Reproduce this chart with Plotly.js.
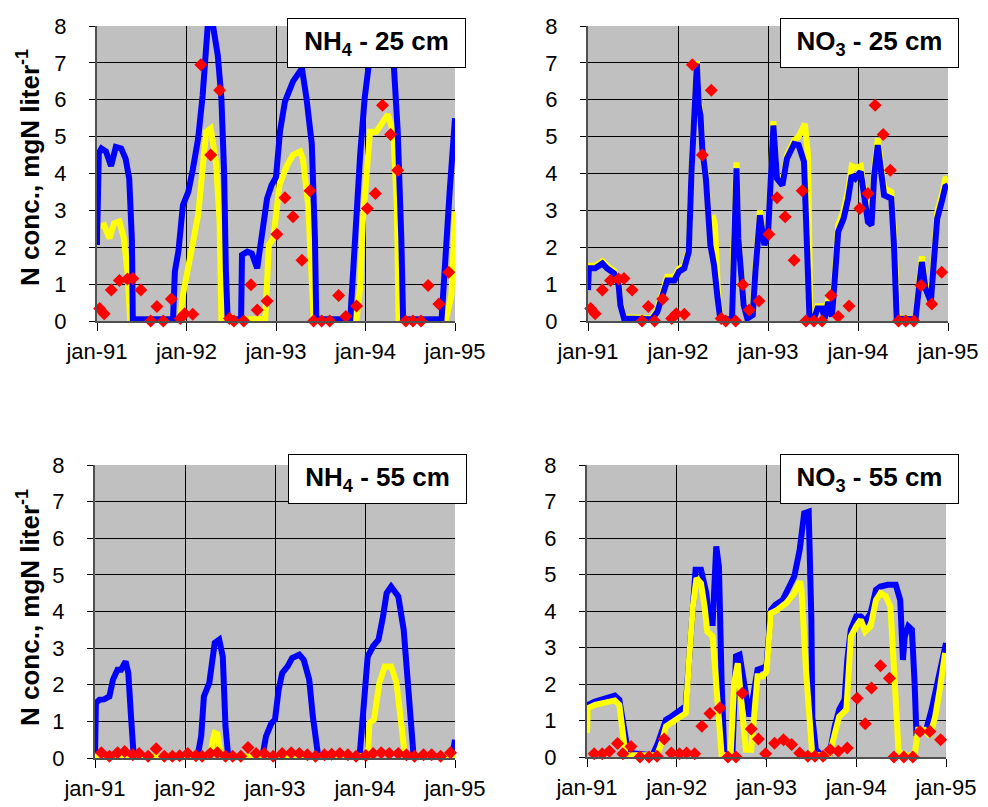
<!DOCTYPE html>
<html>
<head>
<meta charset="utf-8">
<script src="https://cdn.plot.ly/plotly-3.0.1.min.js"></script>
<style>html,body{margin:0;padding:0;background:#fff;}#chart{width:988px;height:807px;}</style>
</head>
<body>
<div id="chart"></div>
<script>
// ---- tick labels ----
const yearTicks = [1991, 1992, 1993, 1994, 1995];
const yearLabels = ['jan-91', 'jan-92', 'jan-93', 'jan-94', 'jan-95'];
const panelTitles = ['NH<sub>4</sub> - 25 cm', 'NO<sub>3</sub> - 25 cm', 'NH<sub>4</sub> - 55 cm', 'NO<sub>3</sub> - 55 cm'];
const yTitle = 'N conc., mgN liter<sup>-1</sup>';

// ---- NH4 25 cm ----
const nh4_25_blue_x = [1991.00,1991.02,1991.05,1991.10,1991.157,1991.21,1991.27,1991.32,1991.36,1991.39,1991.40,1991.85,1991.87,1991.91,1991.96,1992.02,1992.07,1992.13,1992.18,1992.24,1992.29,1992.35,1992.39,1992.42,1992.44,1992.46,1992.61,1992.62,1992.68,1992.73,1992.79,1992.84,1992.90,1992.95,1993.00,1993.045,1993.10,1993.19,1993.29,1993.34,1993.40,1993.435,1993.45,1993.83,1993.88,1993.94,1993.99,1994.05,1994.12,1994.25,1994.31,1994.36,1994.40,1994.42,1994.85,1994.885,1994.94,1995.00];
const nh4_25_blue_y = [2.06,4.55,4.68,4.6,4.2,4.72,4.68,4.4,3.86,2.2,0.05,0.05,1.34,1.9,3.14,3.5,4.1,4.95,6.1,8.1,8.1,7.2,6.03,4.05,1.34,0.05,0.05,1.79,1.88,1.83,1.43,2.33,3.32,3.68,3.9,5.15,5.95,6.5,6.85,6.05,4.8,2.25,0.05,0.05,2.25,4.5,6.03,7.2,7.3,7.3,7.2,5.15,2.25,0.05,0.05,1.7,3.5,5.5];
const nh4_25_yellow_x = [1991.00,1991.01,1991.08,1991.14,1991.19,1991.25,1991.30,1991.34,1991.37,1991.93,1991.96,1992.02,1992.07,1992.13,1992.18,1992.22,1992.27,1992.33,1992.37,1992.39,1992.88,1992.92,1992.97,1993.04,1993.12,1993.19,1993.27,1993.30,1993.36,1993.40,1993.42,1993.90,1993.94,1993.97,1994.01,1994.05,1994.12,1994.20,1994.25,1994.31,1994.35,1994.37,1994.90,1994.96,1995.00];
const nh4_25_yellow_y = [2.06,2.55,2.6,2.24,2.65,2.7,2.24,1.34,0.05,0.05,0.7,1.5,2.15,2.87,4.13,5.13,5.22,4.3,2.7,0.05,0.05,2.06,2.24,3.7,4.2,4.5,4.6,4.4,3.14,1.34,0.05,0.05,0.9,2.7,4.2,5.13,5.13,5.4,5.6,5.13,3.14,0.05,0.05,0.7,2.96];
// observed (same markers appear in both 25 cm panels)
const obs_25_x = [1991.03,1991.08,1991.16,1991.25,1991.34,1991.40,1991.49,1991.60,1991.67,1991.74,1991.83,1991.93,1991.98,1992.07,1992.16,1992.27,1992.37,1992.48,1992.53,1992.64,1992.72,1992.79,1992.90,1993.01,1993.10,1993.19,1993.29,1993.38,1993.42,1993.51,1993.60,1993.70,1993.78,1993.90,1994.02,1994.11,1994.19,1994.28,1994.36,1994.45,1994.53,1994.62,1994.70,1994.82,1994.93];
const obs_25_y = [0.34,0.2,0.84,1.1,1.14,1.15,0.84,0,0.39,0,0.6,0.07,0.2,0.18,6.95,4.5,6.26,0.07,0,0,0.98,0.3,0.54,2.35,3.34,2.83,1.65,3.53,0,0,0,0.69,0.12,0.41,3.05,3.46,5.85,5.06,4.09,0,0,0,0.96,0.46,1.32];

// ---- NO3 25 cm ----
const no3_25_blue_x = [1991.00,1991.01,1991.08,1991.16,1991.21,1991.29,1991.34,1991.36,1991.40,1991.71,1991.77,1991.83,1991.88,1991.96,1992.01,1992.07,1992.12,1992.15,1992.19,1992.21,1992.23,1992.25,1992.27,1992.31,1992.36,1992.40,1992.44,1992.47,1992.60,1992.62,1992.65,1992.67,1992.70,1992.73,1992.77,1992.83,1992.86,1992.91,1992.96,1993.00,1993.06,1993.10,1993.16,1993.21,1993.29,1993.34,1993.40,1993.43,1993.46,1993.51,1993.55,1993.60,1993.63,1993.67,1993.71,1993.74,1993.78,1993.84,1993.89,1993.93,1993.97,1994.03,1994.07,1994.11,1994.15,1994.18,1994.22,1994.26,1994.29,1994.37,1994.40,1994.43,1994.64,1994.68,1994.71,1994.75,1994.81,1994.84,1994.88,1994.93,1994.97,1995.00];
const no3_25_blue_y = [0.84,1.43,1.43,1.56,1.43,1.29,0.98,0.43,0.07,0.05,0.25,0.7,1.1,1.1,1.34,1.43,1.88,4.05,6.66,6.98,5.85,5.58,4.68,3.86,2.06,1.52,0.61,0.05,0.05,2.24,4.14,2.24,1.16,0.43,0.07,0.16,1.34,2.87,2.06,2.33,5.3,3.86,3.68,4.4,4.8,4.77,4.32,2.69,0.16,0.05,0.34,0.34,0.07,0.52,0.12,1.07,2.42,2.78,3.32,3.95,3.86,4.05,3.23,2.69,2.6,3.95,4.77,4.05,3.41,3.32,2.06,0.07,0.05,0.98,1.6,0.88,0.52,1.52,2.78,3.23,3.64,3.68];
const no3_25_yellow_x = [1991.00,1991.01,1991.08,1991.16,1991.21,1991.29,1991.34,1991.36,1991.40,1991.71,1991.77,1991.83,1991.88,1991.96,1992.01,1992.07,1992.12,1992.15,1992.19,1992.21,1992.23,1992.25,1992.27,1992.31,1992.36,1992.385,1992.41,1992.43,1992.45,1992.48,1992.60,1992.62,1992.65,1992.67,1992.70,1992.73,1992.77,1992.83,1992.86,1992.91,1992.96,1993.00,1993.06,1993.10,1993.16,1993.21,1993.29,1993.34,1993.41,1993.445,1993.47,1993.51,1993.55,1993.60,1993.63,1993.67,1993.71,1993.74,1993.78,1993.84,1993.89,1993.93,1993.97,1994.03,1994.07,1994.11,1994.15,1994.18,1994.22,1994.26,1994.29,1994.37,1994.40,1994.44,1994.64,1994.68,1994.71,1994.75,1994.81,1994.84,1994.88,1994.93,1994.97,1995.00];
const no3_25_yellow_y = [0.95,1.5,1.5,1.62,1.5,1.36,1.05,0.5,0.1,0.08,0.32,0.8,1.2,1.2,1.42,1.5,1.95,4.1,6.7,7.05,5.95,5.65,4.75,3.95,2.2,2.87,2.6,1.2,0.5,0.05,0.05,2.3,4.3,2.3,1.25,0.5,0.1,0.25,1.45,3.0,2.15,2.4,5.42,3.95,3.78,4.5,4.9,5.0,5.35,4.5,0.15,0.05,0.4,0.4,0.1,0.6,0.2,1.2,2.6,3.0,3.55,4.2,4.15,4.2,3.35,2.8,2.75,4.1,4.95,4.25,3.6,3.5,2.4,0.1,0.05,1.1,1.75,1.0,0.6,1.7,2.95,3.4,3.85,3.88];

// ---- NH4 55 cm ----
const nh4_55_blue_x = [1991.00,1991.01,1991.05,1991.10,1991.16,1991.20,1991.25,1991.29,1991.34,1991.37,1991.40,1991.43,1992.14,1992.18,1992.21,1992.27,1992.33,1992.38,1992.42,1992.45,1992.48,1992.86,1992.90,1992.96,1993.00,1993.04,1993.08,1993.14,1993.19,1993.27,1993.32,1993.38,1993.42,1993.46,1993.48,1993.94,1993.98,1994.03,1994.09,1994.15,1994.20,1994.24,1994.29,1994.37,1994.43,1994.48,1994.52,1994.54,1994.97,1994.99,1995.00];
const nh4_55_blue_y = [0.05,1.5,1.59,1.6,1.68,2.14,2.41,2.41,2.64,2.32,1.14,0.05,0.05,0.6,1.68,2.05,3.14,3.23,2.77,0.86,0.05,0.05,0.59,0.95,1.05,1.86,2.32,2.5,2.73,2.82,2.68,2.14,1.14,0.14,0.05,0.05,1.32,2.77,3.05,3.23,3.86,4.5,4.68,4.41,3.5,1.68,0.18,0.05,0.05,0.41,0.5];
const nh4_55_yellow_x = [1991.00,1992.28,1992.31,1992.33,1992.36,1992.38,1992.40,1994.03,1994.05,1994.10,1994.16,1994.22,1994.29,1994.35,1994.40,1994.44,1994.46,1995.00];
const nh4_55_yellow_y = [0.05,0.05,0.5,0.68,0.65,0.4,0.05,0.05,0.95,1.05,2.05,2.5,2.5,2.05,0.77,0.14,0.05,0.05];
const nh4_55_obs_x = [1991.07,1991.16,1991.25,1991.33,1991.42,1991.49,1991.59,1991.68,1991.77,1991.86,1991.94,1992.03,1992.12,1992.19,1992.28,1992.36,1992.45,1992.53,1992.62,1992.70,1992.79,1992.88,1992.98,1993.08,1993.18,1993.27,1993.36,1993.45,1993.55,1993.63,1993.72,1993.81,1993.90,1994.01,1994.09,1994.18,1994.27,1994.37,1994.46,1994.55,1994.65,1994.74,1994.84,1994.95];
const nh4_55_obs_y = [0.14,0.05,0.14,0.18,0.09,0.12,0.05,0.25,0.05,0.05,0.06,0.12,0.06,0.05,0.12,0.14,0.05,0.05,0.05,0.29,0.12,0.12,0.05,0.12,0.14,0.12,0.09,0.05,0.09,0.1,0.12,0.09,0.05,0.07,0.12,0.14,0.12,0.12,0.09,0.05,0.09,0.09,0.05,0.14];

// ---- NO3 55 cm ----
const no3_55_blue_x = [1991.00,1991.01,1991.09,1991.16,1991.23,1991.31,1991.36,1991.40,1991.44,1991.47,1991.73,1991.79,1991.84,1991.88,1991.94,1991.99,1992.05,1992.10,1992.14,1992.18,1992.21,1992.27,1992.33,1992.36,1992.40,1992.44,1992.47,1992.50,1992.53,1992.62,1992.66,1992.70,1992.75,1992.81,1992.84,1992.90,1992.96,1993.00,1993.05,1993.10,1993.18,1993.25,1993.31,1993.37,1993.42,1993.47,1993.50,1993.51,1993.55,1993.61,1993.70,1993.76,1993.81,1993.87,1993.90,1993.94,1994.00,1994.05,1994.10,1994.16,1994.22,1994.27,1994.35,1994.44,1994.49,1994.52,1994.54,1994.58,1994.62,1994.65,1994.67,1994.71,1994.78,1994.84,1994.91,1994.97,1995.00];
const no3_55_blue_y = [1.11,1.43,1.52,1.57,1.6,1.68,1.57,0.93,0.38,0.11,0.05,0.38,0.75,1.02,1.11,1.2,1.34,1.39,2.76,4.22,5.13,5.13,4.49,3.67,3.67,5.77,5.22,2.03,0.05,0.05,2.76,2.8,2.03,1.11,1.48,2.39,2.44,2.5,4.03,4.17,4.3,4.67,4.95,5.68,6.68,6.72,3.76,1.11,0.2,0.06,0.05,0.84,1.3,1.57,2.66,3.49,3.85,3.85,3.71,3.94,4.58,4.67,4.72,4.72,4.3,2.66,3.3,3.58,3.49,2.03,0.66,0.66,0.75,1.3,2.12,2.94,3.12];
const no3_55_yellow_x = [1991.00,1991.01,1991.09,1991.16,1991.23,1991.31,1991.36,1991.40,1991.43,1991.78,1991.83,1991.88,1991.96,1992.03,1992.10,1992.14,1992.18,1992.22,1992.27,1992.31,1992.34,1992.40,1992.44,1992.47,1992.50,1992.60,1992.64,1992.68,1992.73,1992.77,1992.83,1992.86,1992.90,1992.96,1993.00,1993.05,1993.12,1993.22,1993.31,1993.37,1993.39,1993.44,1993.48,1993.51,1993.70,1993.76,1993.81,1993.89,1993.94,1994.00,1994.05,1994.10,1994.16,1994.22,1994.27,1994.33,1994.38,1994.43,1994.47,1994.51,1994.65,1994.69,1994.76,1994.82,1994.88,1994.93,1994.99];
const no3_55_yellow_y = [0.66,1.34,1.43,1.48,1.52,1.55,1.43,0.66,0.05,0.05,0.38,0.84,0.98,1.11,1.2,2.76,4.12,4.9,4.76,4.12,3.44,3.3,2.03,0.57,0.05,0.05,2.03,2.57,1.11,0.2,0.2,1.11,2.21,2.21,2.34,3.94,4.03,4.22,4.49,4.81,4.58,2.39,0.66,0.05,0.05,0.57,1.11,1.3,3.3,3.58,3.76,3.44,3.58,4.3,4.49,4.4,4.12,2.03,0.2,0.05,0.05,0.75,0.75,0.57,1.11,1.84,2.85];
const no3_55_obs_x = [1991.08,1991.17,1991.25,1991.34,1991.40,1991.49,1991.59,1991.69,1991.78,1991.86,1991.94,1992.03,1992.11,1992.20,1992.28,1992.37,1992.48,1992.57,1992.66,1992.73,1992.83,1992.91,1992.99,1993.09,1993.19,1993.28,1993.37,1993.46,1993.54,1993.63,1993.71,1993.80,1993.90,1994.01,1994.10,1994.17,1994.27,1994.37,1994.42,1994.53,1994.63,1994.71,1994.82,1994.94];
const no3_55_obs_y = [0.09,0.09,0.16,0.37,0.09,0.29,0,0,0.02,0.49,0.11,0.09,0.11,0.09,0.84,1.19,1.34,0,0,1.75,0.77,0.49,0.09,0.38,0.47,0.34,0.11,0.02,0.02,0.02,0.2,0.16,0.25,1.61,0.91,1.89,2.5,2.16,0,0,0,0.7,0.7,0.47];

const BLUE = '#0000ff', YELLOW = '#ffff00', RED = '#ff0000';

function line(x, y, color, ax) {
  return {x: x, y: y, type: 'scatter', mode: 'lines', line: {color: color, width: 6},
          xaxis: 'x' + ax, yaxis: 'y' + ax, hoverinfo: 'skip'};
}
function obs(x, y, ax) {
  return {x: x, y: y, type: 'scatter', mode: 'markers', cliponaxis: false,
          marker: {symbol: 'diamond', size: 10, color: RED, line: {width: 0}},
          xaxis: 'x' + ax, yaxis: 'y' + ax, hoverinfo: 'skip'};
}

const traces = [
  line(nh4_25_yellow_x, nh4_25_yellow_y, YELLOW, ''),
  line(nh4_25_blue_x, nh4_25_blue_y, BLUE, ''),
  obs(obs_25_x, obs_25_y, ''),
  line(no3_25_yellow_x, no3_25_yellow_y, YELLOW, '2'),
  line(no3_25_blue_x, no3_25_blue_y, BLUE, '2'),
  obs(obs_25_x, obs_25_y, '2'),
  line(nh4_55_blue_x, nh4_55_blue_y, BLUE, '3'),
  line(nh4_55_yellow_x, nh4_55_yellow_y, YELLOW, '3'),
  obs(nh4_55_obs_x, nh4_55_obs_y, '3'),
  line(no3_55_blue_x, no3_55_blue_y, BLUE, '4'),
  line(no3_55_yellow_x, no3_55_yellow_y, YELLOW, '4'),
  obs(no3_55_obs_x, no3_55_obs_y, '4')
];

const W = 988, H = 807;
const FONT = 'Arial, "Liberation Sans", sans-serif';
function xax(x0, x1, anchor) {
  return {domain: [x0 / W, x1 / W], anchor: anchor, range: [1991, 1995],
          tickmode: 'array', tickvals: yearTicks, ticktext: yearLabels,
          showgrid: true, gridcolor: '#000000', gridwidth: 1,
          showline: true, linecolor: '#505050', linewidth: 2,
          ticks: 'outside', ticklen: 8, tickcolor: '#000000', tickwidth: 1,
          ticklabelstandoff: 2,
          tickfont: {family: FONT, size: 22, color: '#000'}, zeroline: false};
}
function yax(top, bottom, anchor) {
  return {domain: [1 - bottom / H, 1 - top / H], anchor: anchor, range: [0, 8],
          tick0: 0, dtick: 1, showgrid: true, gridcolor: '#000000', gridwidth: 1,
          showline: true, linecolor: '#505050', linewidth: 2,
          ticks: 'outside', ticklen: 6, tickcolor: '#000000', tickwidth: 1,
          ticklabelstandoff: 18,
          tickfont: {family: FONT, size: 22, color: '#000'}, zeroline: false};
}

function box(text, cx, cy) {
  return {text: '<b>' + text + '</b>', xref: 'paper', yref: 'paper', x: cx / W, y: 1 - cy / H,
          xanchor: 'center', yanchor: 'middle', showarrow: false,
          font: {family: FONT, size: 26, color: '#000'},
          bgcolor: '#ffffff', bordercolor: '#000000', borderwidth: 1, borderpad: 1,
          width: 175, height: 46};
}
function ytitle(cy) {
  return {text: '<b>' + yTitle + '</b>', xref: 'paper', yref: 'paper', x: 28 / W, y: 1 - cy / H,
          xanchor: 'center', yanchor: 'middle', showarrow: false, textangle: -90,
          font: {family: FONT, size: 26, color: '#000'}};
}

const layout = {
  width: W, height: H, margin: {l: 0, r: 0, t: 0, b: 0},
  paper_bgcolor: '#ffffff', plot_bgcolor: '#c0c0c0', showlegend: false,
  xaxis: xax(97, 455, 'y'), yaxis: yax(26, 321, 'x'),
  xaxis2: xax(588, 948, 'y2'), yaxis2: yax(26, 321, 'x2'),
  xaxis3: xax(95, 455, 'y3'), yaxis3: yax(465, 758, 'x3'),
  xaxis4: xax(587, 946, 'y4'), yaxis4: yax(465, 757, 'x4'),
  annotations: [
    box(panelTitles[0], 376.5, 43), box(panelTitles[1], 869, 43),
    box(panelTitles[2], 377, 478.5), box(panelTitles[3], 869, 478.5),
    ytitle(168), ytitle(608)
  ]
};

Plotly.newPlot('chart', traces, layout, {staticPlot: true, displayModeBar: false});
</script>
</body>
</html>
